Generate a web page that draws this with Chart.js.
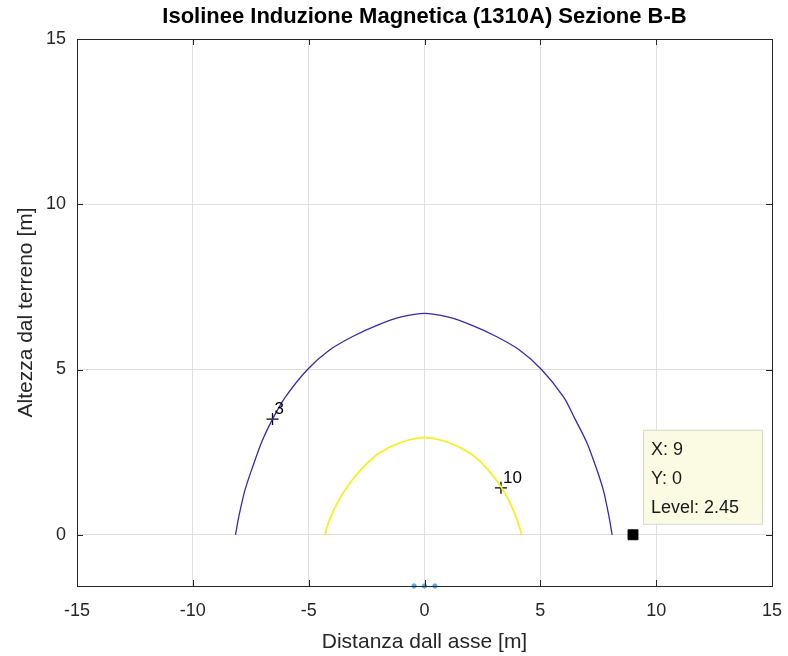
<!DOCTYPE html>
<html>
<head>
<meta charset="utf-8">
<script src="https://cdn.jsdelivr.net/npm/chart.js@4"></script>
<style>
  html, body { margin: 0; padding: 0; background: #fff; }
  #wrap { width: 788px; height: 656px; }
</style>
</head>
<body>
<div id="wrap"><canvas id="contour" width="788" height="656"></canvas></div>
<script>
// isolinea livello 3 (blu)
var level3X = [-8.16, -8.0, -7.75, -7.42, -7.0, -6.56, -6.0, -5.05, -4.1, -3.1, -2.0, -1.0, 0, 1.0, 2.0, 3.1, 4.1, 5.05, 6.0, 6.5, 7.0, 7.4, 7.72, 7.95, 8.1];
var level3Y = [0, 0.6, 1.35, 2.05, 2.85, 3.5, 4.17, 5.0, 5.59, 6.0, 6.35, 6.59, 6.7, 6.59, 6.35, 6.0, 5.59, 5.0, 4.17, 3.5, 2.8, 2.05, 1.35, 0.6, 0];

// isolinea livello 10 (giallo)
var level10X = [-4.3, -4.1, -3.7, -3.2, -2.7, -2.0, -1.0, 0, 1.0, 2.0, 2.7, 3.3, 3.7, 4.0, 4.2];
var level10Y = [0, 0.45, 1.05, 1.58, 2.0, 2.45, 2.8, 2.94, 2.8, 2.45, 2.0, 1.45, 0.95, 0.45, 0];

// etichette delle isolinee
var labelText = ["3", "10"];
var labelX = [-6.56, 3.3];
var labelY = [3.5, 1.42];

// conduttori
var condX = [-0.45, 0, 0.45];
var condY = [-1.55, -1.55, -1.55];

// data tip
var tipX = 9;
var tipY = 0;
var tipLevel = 2.45;

var xTicks = [-15, -10, -5, 0, 5, 10, 15];
var yTicks = [0, 5, 10, 15];

function pts(xs, ys) {
    return xs.map(function (x, i) { return { x: x, y: ys[i] }; });
}

var axisColor = '#262626';
var fontFam = "'Liberation Sans', Arial, Helvetica, sans-serif";

// box, tacche interne, etichette e data tip
var extras = {
    id: 'extras',
    afterDatasetsDraw: function (chart) {
        var c = chart.ctx, a = chart.chartArea;
        var sx = chart.scales.x, sy = chart.scales.y;
        c.save();
        c.strokeStyle = axisColor;
        c.lineWidth = 1;
        c.beginPath();
        xTicks.forEach(function (v) {
            var px = Math.round(sx.getPixelForValue(v)) + 0.5;
            c.moveTo(px, a.bottom); c.lineTo(px, a.bottom - 6);
            c.moveTo(px, a.top); c.lineTo(px, a.top + 6);
        });
        yTicks.forEach(function (v) {
            var py = Math.round(sy.getPixelForValue(v)) + 0.5;
            c.moveTo(a.left, py); c.lineTo(a.left + 6, py);
            c.moveTo(a.right, py); c.lineTo(a.right - 6, py);
        });
        c.stroke();
        c.strokeRect(Math.round(a.left) + 0.5, Math.round(a.top) + 0.5,
            Math.round(a.right - a.left), Math.round(a.bottom - a.top));

        c.fillStyle = '#000';
        c.font = '17px ' + fontFam;
        c.textAlign = 'left';
        c.textBaseline = 'middle';
        labelText.forEach(function (t, i) {
            var px = sx.getPixelForValue(labelX[i]);
            var py = sy.getPixelForValue(labelY[i]);
            c.fillText(t, px + 2, py - 10);
        });

        // data tip
        var bx = sx.getPixelForValue(tipX) + 10, by = sy.getPixelForValue(tipY) - 105;
        var bw = 119, bh = 94;
        c.fillStyle = '#fbfbe4';
        c.fillRect(bx, by, bw, bh);
        c.strokeStyle = '#d8d8c8';
        c.strokeRect(bx + 0.5, by + 0.5, bw, bh);
        c.fillStyle = '#1a1a1a';
        c.font = '18px ' + fontFam;
        c.fillText('X: ' + tipX, bx + 8, by + 20);
        c.fillText('Y: ' + tipY, bx + 8, by + 49);
        c.fillText('Level: ' + tipLevel, bx + 8, by + 78);
        c.restore();
    }
};

var config = {
    type: 'scatter',
    data: {
        datasets: [
            {
                label: 'Livello 3',
                data: pts(level3X, level3Y),
                showLine: true,
                borderColor: '#3e26a8',
                borderWidth: 1.3,
                pointRadius: 0,
                tension: 0.3
            },
            {
                label: 'Livello 10',
                data: pts(level10X, level10Y),
                showLine: true,
                borderColor: '#f2f21e',
                borderWidth: 1.8,
                pointRadius: 0,
                tension: 0.3
            },
            {
                label: 'Etichette',
                data: pts(labelX, labelY),
                pointStyle: 'cross',
                pointRadius: 6,
                borderColor: '#000',
                borderWidth: 1.3
            },
            {
                label: 'Conduttori',
                data: pts(condX, condY),
                pointRadius: 2.2,
                backgroundColor: '#5aaee0',
                borderColor: '#5aaee0',
                clip: false
            },
            {
                label: 'Data tip',
                data: [{ x: tipX, y: tipY }],
                pointStyle: 'rect',
                pointRadius: 7,
                backgroundColor: '#000',
                borderColor: '#000',
                clip: false
            }
        ]
    },
    options: {
        responsive: false,
        animation: false,
        devicePixelRatio: 1,
        layout: { padding: { left: 0, right: 16, top: 0, bottom: 0 } },
        plugins: {
            legend: { display: false },
            tooltip: { enabled: false },
            title: {
                display: true,
                fullSize: false,
                text: 'Isolinee Induzione Magnetica (1310A) Sezione B-B',
                color: '#000',
                font: { family: fontFam, size: 22, weight: 'bold' },
                padding: { top: 4, bottom: 8.6 }
            }
        },
        scales: {
            x: {
                type: 'linear',
                min: -15,
                max: 15,
                afterBuildTicks: function (s) { s.ticks = xTicks.map(function (v) { return { value: v }; }); },
                afterFit: function (s) { s.height = 70; s.paddingLeft = 0; s.paddingRight = 0; },
                grid: { color: '#e0e0e0', drawTicks: false },
                border: { display: false },
                ticks: { color: axisColor, padding: 14, font: { family: fontFam, size: 18 } },
                title: {
                    display: true,
                    text: 'Distanza dall asse [m]',
                    color: axisColor,
                    font: { family: fontFam, size: 21 },
                    padding: { top: 0, bottom: 1.4 }
                }
            },
            y: {
                type: 'linear',
                min: -1.55,
                max: 15,
                afterBuildTicks: function (s) { s.ticks = yTicks.map(function (v) { return { value: v }; }); },
                afterFit: function (s) { s.width = 77; s.paddingTop = 0; s.paddingBottom = 0; },
                grid: { color: '#e0e0e0', drawTicks: false },
                border: { display: false },
                ticks: { color: axisColor, padding: 11, font: { family: fontFam, size: 18 } },
                title: {
                    display: true,
                    text: 'Altezza dal terreno [m]',
                    color: axisColor,
                    font: { family: fontFam, size: 21 },
                    padding: { top: 13.4, bottom: 0 }
                }
            }
        }
    },
    plugins: [extras]
};

new Chart(document.getElementById('contour'), config);
</script>
</body>
</html>
